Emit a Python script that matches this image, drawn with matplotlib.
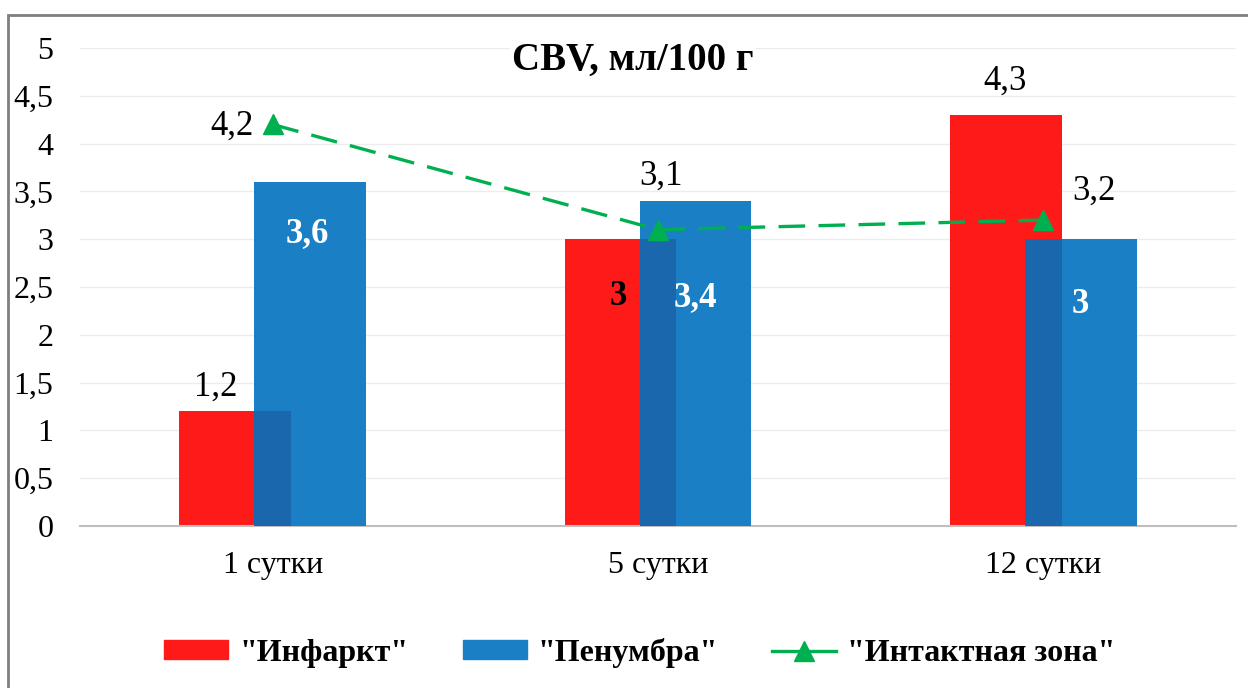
import numpy as np
import matplotlib.pyplot as plt
from matplotlib.patches import Rectangle, Patch
from matplotlib.lines import Line2D

# данные
categories = ['1 сутки', '5 сутки', '12 сутки']
infarct = [1.2, 3, 4.3]
penumbra = [3.6, 3.4, 3]
intact = [4.2, 3.1, 3.2]
yticks = [0, 0.5, 1, 1.5, 2, 2.5, 3, 3.5, 4, 4.5, 5]
ytick_labels = ['0', '0,5', '1', '1,5', '2', '2,5', '3', '3,5', '4', '4,5', '5']
legend_labels = ['"Инфаркт"', '"Пенумбра"', '"Интактная зона"']

red = '#FF1A1A'
blue = '#1B7FC6'
blue_dark = '#1B67AE'
green = '#00B050'

plt.rcParams['font.family'] = ['Liberation Serif', 'DejaVu Serif']

W, H = 1248, 688
fig = plt.figure(figsize=(W / 100, H / 100), dpi=100)
ax = fig.add_axes([80 / W, 1 - 526 / H, (1236 - 80) / W, (526 - 48) / H])

x = np.arange(len(categories))
w = 0.29
off = 0.097
ax.bar(x - off, infarct, w, color=red, zorder=2)
ax.bar(x + off, penumbra, w, color=blue, zorder=3)
# зона перекрытия столбцов
ax.bar(x, np.minimum(infarct, penumbra), w - 2 * off, color=blue_dark, zorder=4)

ax.plot(x, intact, color=green, lw=2.4, ls=(0, (8, 4)), marker='^', ms=14, zorder=5)

ax.set_xlim(-0.5, 2.5)
ax.set_ylim(0, 5)
ax.set_yticks(yticks, ytick_labels)
ax.set_xticks(x, categories)
ax.tick_params(axis='y', length=0, pad=19, labelsize=23)
ax.tick_params(axis='x', length=0, pad=18, labelsize=23)
ax.grid(axis='y', color='#EDEDED', lw=1)
ax.set_axisbelow(True)
for s in ['top', 'left', 'right']:
    ax.spines[s].set_visible(False)
ax.spines['bottom'].set_color('#BFBFBF')
ax.spines['bottom'].set_linewidth(1.5)

# подписи: смещения в пикселях
red_off = [(-20, 16, 'normal', 'black'), (-2, -66, 'bold', 'black'), (-1, 25, 'normal', 'black')]
blue_off = [(-3, -60), (0, -105), (0, -74)]
line_off = [(-41, -10), (3, 45), (51, 20)]

def fmt(v):
    return ('%g' % v).replace('.', ',')

for i in range(len(categories)):
    dx, dy, fw, c = red_off[i]
    ax.annotate(fmt(infarct[i]), (x[i] - off, infarct[i]), xytext=(dx, dy),
                textcoords='offset pixels', ha='center', va='baseline',
                fontsize=25, fontweight=fw, color=c, zorder=6)
    dx, dy = blue_off[i]
    ax.annotate(fmt(penumbra[i]), (x[i] + off, penumbra[i]), xytext=(dx, dy),
                textcoords='offset pixels', ha='center', va='baseline',
                fontsize=25, fontweight='bold', color='white', zorder=6)
    dx, dy = line_off[i]
    ax.annotate(fmt(intact[i]), (x[i], intact[i]), xytext=(dx, dy),
                textcoords='offset pixels', ha='center', va='baseline',
                fontsize=25, color='black', zorder=6)

fig.text(633 / W, 1 - 70 / H, 'CBV, мл/100 г', ha='center', va='baseline',
         fontsize=28, fontweight='bold', zorder=10,
         bbox=dict(facecolor='white', edgecolor='none', pad=2))

fig.add_artist(Rectangle((8 / W, -0.05), 1.1, 1 - 15 / H + 0.05, transform=fig.transFigure,
                         fill=False, ec='#7F7F7F', lw=2))

handles = [Patch(color=red), Patch(color=blue),
           Line2D([], [], color=green, lw=2.4, marker='^', ms=14)]
fig.legend(handles, legend_labels, loc='center', bbox_to_anchor=(640 / W, 1 - 653 / H),
           ncol=3, frameon=False, prop={'weight': 'bold', 'size': 23},
           handlelength=2.0, handleheight=0.55, handletextpad=0.35, columnspacing=1.7)

fig.savefig('out.png', dpi=100)
